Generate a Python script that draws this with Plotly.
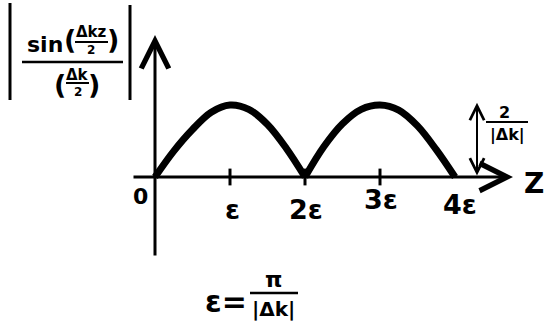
import plotly.graph_objects as go

# ---- data (x in units of epsilon, y in units of 2/|dk|) ----
arch1_x = [0, 0.25, 0.5, 0.75, 1.0, 1.25, 1.5, 1.75, 2.0]
arch1_y = [0, 0.36, 0.66, 0.90, 1.0, 0.94, 0.73, 0.40, 0]
arch2_x = [2.0, 2.25, 2.5, 2.75, 3.0, 3.25, 3.5, 3.75, 4.0]
arch2_y = [0, 0.42, 0.74, 0.94, 1.0, 0.93, 0.71, 0.38, 0]
tick_vals = [1, 2, 3]
tick_labels = ["ε", "2ε", "3ε", "4ε"]

W, H = 549, 326
PX_X = 75.0   # pixels per epsilon
PX_Y = 72.0   # pixels per unit
X0, Y0 = 155, 177  # origin in pixels
xr = [-X0 / PX_X, (W - X0) / PX_X]
yr = [-(H - Y0) / PX_Y, Y0 / PX_Y]

FONT = "DejaVu Sans"
BLACK = "#000000"

fig = go.Figure()
for xs, ys in [(arch1_x, arch1_y), (arch2_x, arch2_y)]:
    fig.add_trace(go.Scatter(x=xs, y=ys, mode="lines",
                             line=dict(color=BLACK, width=7, shape="spline", smoothing=1.0),
                             hoverinfo="skip", showlegend=False))

# tick marks
fig.add_trace(go.Scatter(x=tick_vals, y=[0] * len(tick_vals), mode="markers",
                         marker=dict(symbol="line-ns", size=12, line=dict(width=3, color=BLACK)),
                         hoverinfo="skip", showlegend=False))

ann = []
shapes = []
# y axis (arrow up)
ann.append(dict(x=0, y=(Y0 - 35) / PX_Y, ax=0, ay=-(257 - Y0) / PX_Y, xref="x", yref="y",
                axref="x", ayref="y", showarrow=True, arrowhead=5, arrowsize=1.8,
                arrowwidth=3, arrowcolor=BLACK, text=""))
# x axis (arrow right)
ann.append(dict(x=(513 - X0) / PX_X, y=0, ax=(132 - X0) / PX_X, ay=0, xref="x", yref="y",
                axref="x", ayref="y", showarrow=True, arrowhead=5, arrowsize=1.8,
                arrowwidth=3, arrowcolor=BLACK, text=""))
# double arrow for amplitude
ann.append(dict(x=(477 - X0) / PX_X, y=1.03, ax=(477 - X0) / PX_X, ay=0.0, xref="x", yref="y",
                axref="x", ayref="y", showarrow=True, arrowhead=5, arrowsize=1.4,
                arrowside="end+start", arrowwidth=2, arrowcolor=BLACK, text=""))

def txt(px, py, s, size, **kw):
    d = dict(x=px / W, y=1 - py / H, xref="paper", yref="paper", text=s, showarrow=False,
             font=dict(family=FONT, size=size, color=BLACK), xanchor="center", yanchor="middle")
    d.update(kw)
    ann.append(d)

def hline(x1, x2, py, w=2.5):
    shapes.append(dict(type="line", xref="paper", yref="paper", x0=x1 / W, x1=x2 / W,
                       y0=1 - py / H, y1=1 - py / H, line=dict(color=BLACK, width=w)))

def vline(px, y1, y2, w=3):
    shapes.append(dict(type="line", xref="paper", yref="paper", x0=px / W, x1=px / W,
                       y0=1 - y1 / H, y1=1 - y2 / H, line=dict(color=BLACK, width=w)))

# tick labels
txt(140, 197, "<b>0</b>", 22)
label_px = [(232, 209), (306, 209), (381, 199), (460, 204)]
for lab, (px, py) in zip(tick_labels, label_px):
    txt(px, py, "<b>" + lab + "</b>", 27)
txt(534, 183, "<b>Z</b>", 28)

# 2/|dk| label
txt(504, 112, "<b>2</b>", 16)
hline(486, 528, 122, 2)
txt(507, 135, "<b>|Δk|</b>", 16)

# left y label |sin(dkz/2)/(dk/2)|
vline(10, 3, 100, 3)
vline(130, 5, 100, 3)
txt(45, 44, "<b>sin</b>", 22)
txt(70, 40, "<b>(</b>", 27)
txt(91, 32, "<b>Δkz</b>", 15)
hline(75, 108, 42, 2)
txt(91, 50, "<b>2</b>", 12)
txt(113, 40, "<b>)</b>", 27)
hline(22, 123, 62, 2.5)
txt(60, 84, "<b>(</b>", 27)
txt(77, 75, "<b>Δk</b>", 15)
hline(66, 89, 83, 2)
txt(78, 92, "<b>2</b>", 12)
txt(94, 84, "<b>)</b>", 27)

# bottom epsilon definition
txt(226, 301, "<b>ε=</b>", 30)
txt(273, 279, "<b>π</b>", 22)
hline(250, 298, 293, 2.5)
txt(273, 309, "<b>|Δk|</b>", 20)

fig.update_layout(
    width=W, height=H, margin=dict(l=0, r=0, t=0, b=0),
    paper_bgcolor="white", plot_bgcolor="white",
    xaxis=dict(range=xr, visible=False, fixedrange=True),
    yaxis=dict(range=yr, visible=False, fixedrange=True),
    annotations=ann, shapes=shapes, showlegend=False,
)
fig.write_html("out.html", config={"displayModeBar": False},
               post_script="document.body.style.margin='0';document.body.style.overflow='hidden';")
